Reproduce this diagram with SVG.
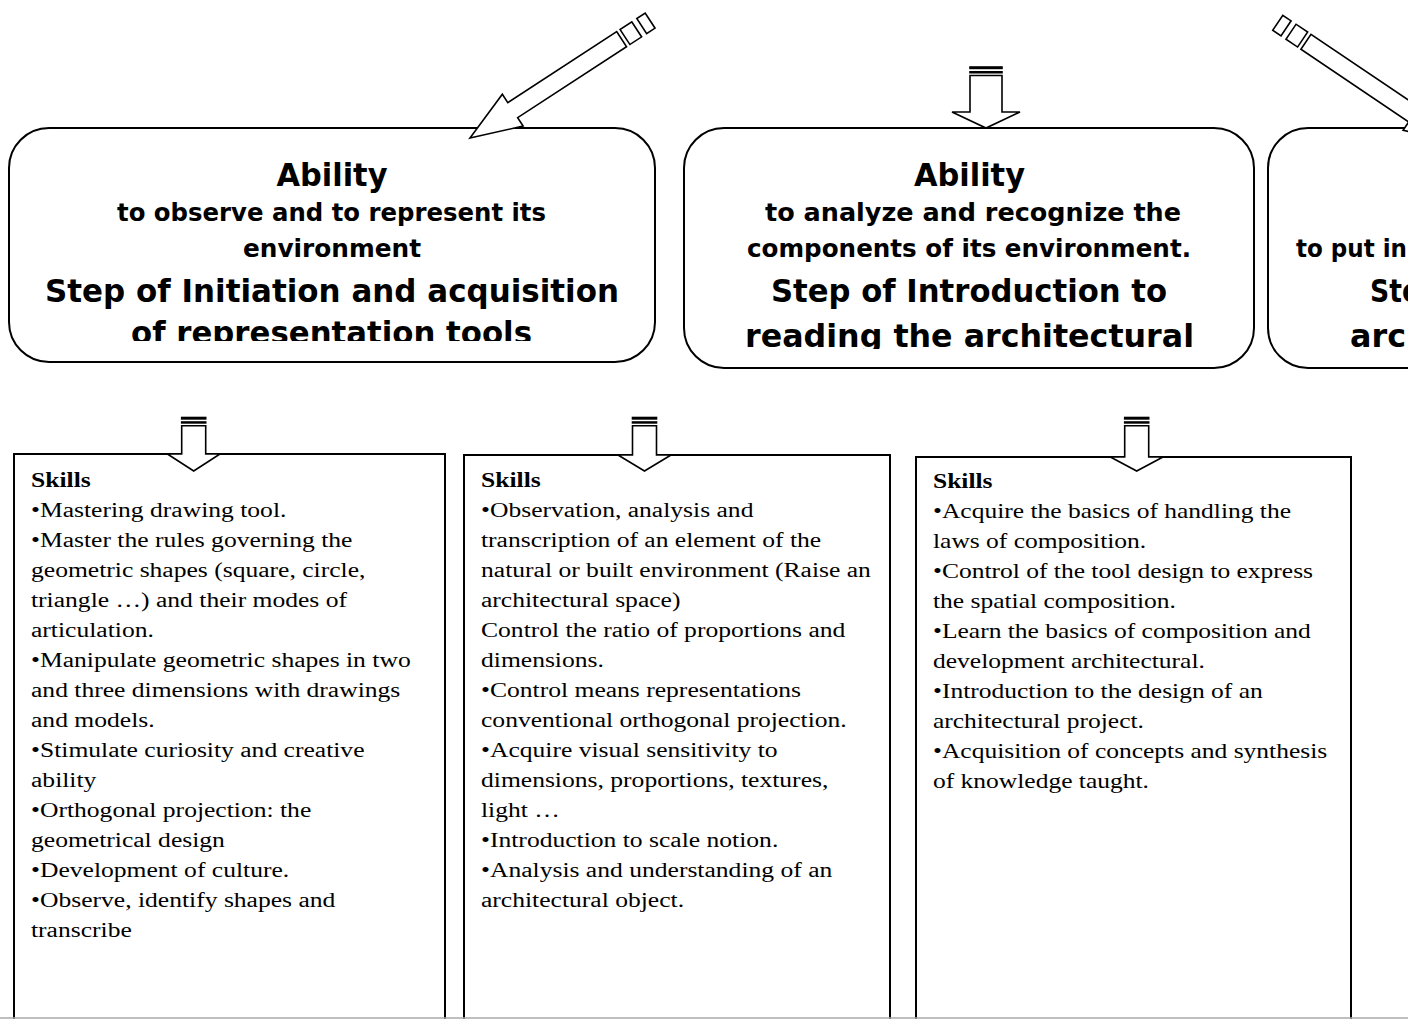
<svg xmlns="http://www.w3.org/2000/svg" width="1408" height="1019" viewBox="0 0 1408 1019">
  <style>
    .box{fill:#fff;stroke:#000;stroke-width:2}
    .sk{fill:#fff;stroke:#000;stroke-width:2}
    .arr{fill:#fff;stroke:#000;stroke-width:1.6;stroke-linejoin:miter}
    .big{font-family:"DejaVu Sans",sans-serif;font-weight:bold;font-size:32px;text-anchor:middle;fill:#000}
    .sub{font-family:"DejaVu Sans",sans-serif;font-weight:bold;font-size:24.5px;text-anchor:middle;fill:#000}
    .part{font-family:"DejaVu Sans",sans-serif;font-weight:bold;fill:#000}
    .st{font-family:"Liberation Serif","Times New Roman",serif;font-size:20.5px;fill:#000}
    .b{font-weight:bold}
  </style>
  <defs>
    <clipPath id="cutA"><rect x="0" y="0" width="1408" height="341"/></clipPath>
    <clipPath id="cutB"><rect x="0" y="0" width="1408" height="349"/></clipPath>
    <!-- striped block arrow, tip at origin, pointing along +x -->
    <g id="striped">
      <path class="arr" d="M0,0 L-51,-19 L-51,-9 L-181,-9 L-181,9 L-51,9 L-51,19 Z"/>
      <rect class="arr" x="-199" y="-9" width="14" height="18"/>
      <rect class="arr" x="-215" y="-9" width="10" height="18"/>
    </g>
  </defs>

  <rect x="0" y="0" width="1408" height="1019" fill="#fff"/>

  <!-- ability boxes -->
  <g id="ability-observe">
    <rect class="box" x="9" y="128" width="646" height="234" rx="40" ry="40"/>
    <text class="big" x="332" y="186" textLength="111" lengthAdjust="spacingAndGlyphs">Ability</text>
    <text class="sub" x="331.5" y="221" textLength="429" lengthAdjust="spacingAndGlyphs">to observe and to represent its</text>
    <text class="sub" x="332" y="257" textLength="178" lengthAdjust="spacingAndGlyphs">environment</text>
    <text class="big" x="332" y="302" textLength="574" lengthAdjust="spacingAndGlyphs">Step of Initiation and acquisition</text>
    <text class="big" x="331.5" y="344" textLength="401" lengthAdjust="spacingAndGlyphs" clip-path="url(#cutA)">of representation tools</text>
  </g>

  <g id="ability-analyze">
    <rect class="box" x="684" y="128" width="570" height="240" rx="40" ry="40"/>
    <text class="big" x="969.5" y="186" textLength="111" lengthAdjust="spacingAndGlyphs">Ability</text>
    <text class="sub" x="973" y="221" textLength="416" lengthAdjust="spacingAndGlyphs">to analyze and recognize the</text>
    <text class="sub" x="969" y="257" textLength="444" lengthAdjust="spacingAndGlyphs">components of its environment.</text>
    <text class="big" x="969" y="302" textLength="396" lengthAdjust="spacingAndGlyphs">Step of Introduction to</text>
    <text class="big" x="969.5" y="347" textLength="449" lengthAdjust="spacingAndGlyphs" clip-path="url(#cutB)">reading the architectural</text>
  </g>

  <g id="ability-third">
    <rect class="box" x="1268" y="128" width="300" height="240" rx="40" ry="40"/>
    <text class="part" x="1296" y="257" font-size="24.5px" textLength="111" lengthAdjust="spacingAndGlyphs">to put in</text>
    <text class="part" x="1370" y="302" font-size="32px" textLength="50" lengthAdjust="spacingAndGlyphs">Ste</text>
    <text class="part" x="1350" y="347" font-size="32px" textLength="56" lengthAdjust="spacingAndGlyphs" clip-path="url(#cutB)">arc</text>
  </g>

  <!-- skills boxes -->
  <g id="skills-1">
    <rect class="sk" x="14" y="454" width="431" height="600"/>
    <g transform="translate(31,0) scale(1.248,1)">
      <text class="st" x="0" y="487">
        <tspan x="0" class="b">Skills</tspan>
        <tspan x="0" dy="30">•Mastering drawing tool.</tspan>
        <tspan x="0" dy="30">•Master the rules governing the</tspan>
        <tspan x="0" dy="30">geometric shapes (square, circle,</tspan>
        <tspan x="0" dy="30">triangle …) and their modes of</tspan>
        <tspan x="0" dy="30">articulation.</tspan>
        <tspan x="0" dy="30">•Manipulate geometric shapes in two</tspan>
        <tspan x="0" dy="30">and three dimensions with drawings</tspan>
        <tspan x="0" dy="30">and models.</tspan>
        <tspan x="0" dy="30">•Stimulate curiosity and creative</tspan>
        <tspan x="0" dy="30">ability</tspan>
        <tspan x="0" dy="30">•Orthogonal projection: the</tspan>
        <tspan x="0" dy="30">geometrical design</tspan>
        <tspan x="0" dy="30">•Development of culture.</tspan>
        <tspan x="0" dy="30">•Observe, identify shapes and</tspan>
        <tspan x="0" dy="30">transcribe</tspan>
      </text>
    </g>
  </g>

  <g id="skills-2">
    <rect class="sk" x="464" y="455" width="426" height="600"/>
    <g transform="translate(481,0) scale(1.248,1)">
      <text class="st" x="0" y="487">
        <tspan x="0" class="b">Skills</tspan>
        <tspan x="0" dy="30">•Observation, analysis and</tspan>
        <tspan x="0" dy="30">transcription of an element of the</tspan>
        <tspan x="0" dy="30">natural or built environment (Raise an</tspan>
        <tspan x="0" dy="30">architectural space)</tspan>
        <tspan x="0" dy="30">Control the ratio of proportions and</tspan>
        <tspan x="0" dy="30">dimensions.</tspan>
        <tspan x="0" dy="30">•Control means representations</tspan>
        <tspan x="0" dy="30">conventional orthogonal projection.</tspan>
        <tspan x="0" dy="30">•Acquire visual sensitivity to</tspan>
        <tspan x="0" dy="30">dimensions, proportions, textures,</tspan>
        <tspan x="0" dy="30">light …</tspan>
        <tspan x="0" dy="30">•Introduction to scale notion.</tspan>
        <tspan x="0" dy="30">•Analysis and understanding of an</tspan>
        <tspan x="0" dy="30">architectural object.</tspan>
      </text>
    </g>
  </g>

  <g id="skills-3">
    <rect class="sk" x="916" y="457" width="435" height="600"/>
    <g transform="translate(933,0) scale(1.245,1)">
      <text class="st" x="0" y="488">
        <tspan x="0" class="b">Skills</tspan>
        <tspan x="0" dy="30">•Acquire the basics of handling the</tspan>
        <tspan x="0" dy="30">laws of composition.</tspan>
        <tspan x="0" dy="30">•Control of the tool design to express</tspan>
        <tspan x="0" dy="30">the spatial composition.</tspan>
        <tspan x="0" dy="30">•Learn the basics of composition and</tspan>
        <tspan x="0" dy="30">development architectural.</tspan>
        <tspan x="0" dy="30">•Introduction to the design of an</tspan>
        <tspan x="0" dy="30">architectural project.</tspan>
        <tspan x="0" dy="30">•Acquisition of concepts and synthesis</tspan>
        <tspan x="0" dy="30">of knowledge taught.</tspan>
      </text>
    </g>
  </g>

  <!-- bottom edge -->
  <line x1="0" y1="1018" x2="1408" y2="1018" stroke="#aaa" stroke-width="1.5"/>

  <!-- connectors -->
  <g id="connectors">
    <use href="#striped" transform="translate(470,138) rotate(146.9)"/>
    <use href="#striped" transform="translate(1456,143) rotate(34)"/>

    <!-- vertical arrow into the middle ability box -->
    <g>
      <rect class="arr" x="970" y="67" width="32" height="1.4"/>
      <rect class="arr" x="970" y="71.8" width="32" height="0.9"/>
      <path class="arr" d="M970,75.5 L1002,75.5 L1002,112 L1020,112 L986,128 L952,112 L970,112 Z"/>
    </g>

    <!-- arrows into the skills boxes -->
    <g>
      <rect class="arr" x="181.7" y="417.5" width="24" height="1.4"/>
      <rect class="arr" x="181.7" y="422" width="24" height="0.9"/>
      <path class="arr" d="M181.7,425.7 L205.7,425.7 L205.7,454 L220,454 L193.7,471 L167.4,454 L181.7,454 Z"/>
    </g>
    <g>
      <rect class="arr" x="632.5" y="417.5" width="24" height="1.4"/>
      <rect class="arr" x="632.5" y="422" width="24" height="0.9"/>
      <path class="arr" d="M632.5,425.7 L656.5,425.7 L656.5,455 L671,455 L644.5,471 L618,455 L632.5,455 Z"/>
    </g>
    <g>
      <rect class="arr" x="1124.7" y="417.5" width="24" height="1.4"/>
      <rect class="arr" x="1124.7" y="422" width="24" height="0.9"/>
      <path class="arr" d="M1124.7,425.7 L1148.7,425.7 L1148.7,457 L1163,457 L1136.7,471 L1110.4,457 L1124.7,457 Z"/>
    </g>
  </g>
</svg>
